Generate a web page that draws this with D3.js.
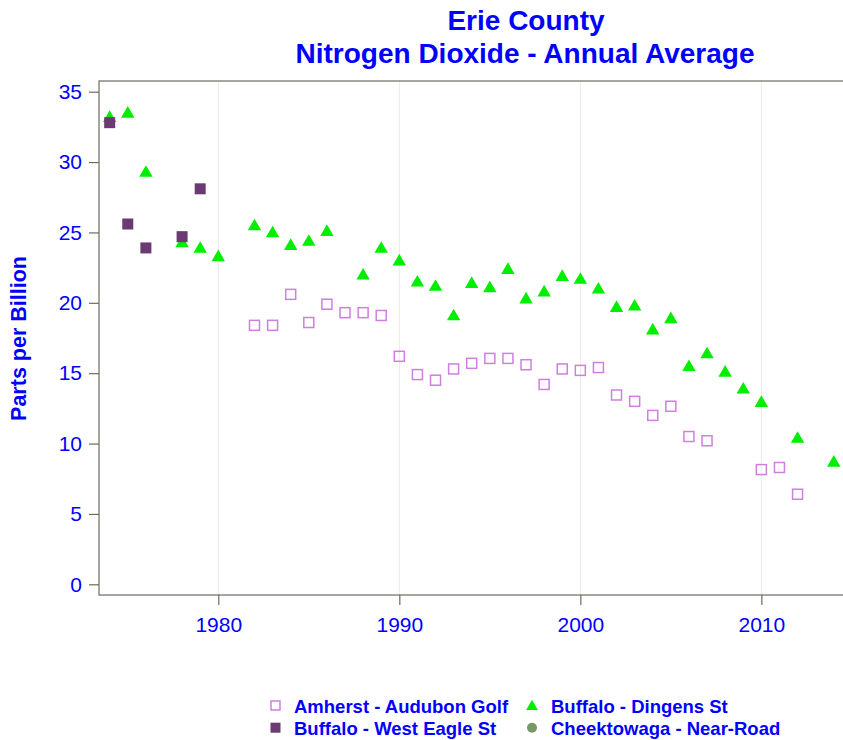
<!DOCTYPE html>
<html>
<head>
<meta charset="utf-8">
<script src="https://cdn.jsdelivr.net/npm/d3@7"></script>
<style>
  body { margin: 0; background: #fff; }
  svg { font-family: "Liberation Sans", Arial, sans-serif; }
</style>
</head>
<body>
<div id="chart"></div>
<script>
(function () {

    const amherstYears = [1982, 1983, 1984, 1985, 1986, 1987, 1988, 1989, 1990, 1991, 1992, 1993, 1994, 1995,
        1996, 1997, 1998, 1999, 2000, 2001, 2002, 2003, 2004, 2005, 2006, 2007, 2010, 2011, 2012]
    const amherstValues = [18.4, 18.4, 20.6, 18.6, 19.9, 19.3, 19.3, 19.1, 16.2, 14.9, 14.5, 15.3, 15.7, 16.05,
        16.05, 15.6, 14.2, 15.3, 15.2, 15.4, 13.45, 13.0, 12.0, 12.65, 10.5, 10.2, 8.15, 8.3, 6.4]

    const dingensYears = [1974, 1975, 1976, 1978, 1979, 1980, 1982, 1983, 1984, 1985, 1986, 1988, 1989, 1990,
        1991, 1992, 1993, 1994, 1995, 1996, 1997, 1998, 1999, 2000, 2001, 2002, 2003, 2004, 2005, 2006,
        2007, 2008, 2009, 2010, 2012, 2014]
    const dingensValues = [33.2, 33.5, 29.3, 24.3, 23.9, 23.3, 25.5, 25.0, 24.1, 24.4, 25.1, 22.0, 23.9, 23.0,
        21.5, 21.2, 19.1, 21.4, 21.1, 22.4, 20.3, 20.8, 21.9, 21.7, 21.0, 19.7, 19.8, 18.1, 18.9, 15.5,
        16.4, 15.1, 13.9, 12.95, 10.4, 8.7]

    const eagleYears = [1974, 1975, 1976, 1978, 1979]
    const eagleValues = [32.8, 25.6, 23.9, 24.7, 28.1]

    const cheekYears = []
    const cheekValues = []

    const xTicks = [1980, 1990, 2000, 2010]
    const yTicks = [0, 5, 10, 15, 20, 25, 30, 35]

    const seriesNames = ['Amherst - Audubon Golf', 'Buffalo - Dingens St',
        'Buffalo - West Eagle St', 'Cheektowaga - Near-Road']

    const width = 843, height = 740
    const left = 99, top = 81, right = 844, bottom = 595
    const blue = '#0000ff'
    const axisColor = '#6e6a60'

    const svg = d3.select('#chart').append('svg')
        .attr('width', width)
        .attr('height', height)

    const x = d3.scaleLinear().domain([1973.41, 2014.51]).range([left, 843])
    const y = d3.scaleLinear().domain([0, 35]).range([584.3, 91.7])

    // grid
    svg.append('g')
        .selectAll('line')
        .data(xTicks)
        .join('line')
        .attr('x1', d => x(d)).attr('x2', d => x(d))
        .attr('y1', top).attr('y2', bottom)
        .attr('stroke', '#ecebdd')
        .attr('stroke-width', 1)

    // frame
    svg.append('rect')
        .attr('x', left).attr('y', top)
        .attr('width', right - left).attr('height', bottom - top)
        .attr('fill', 'none')
        .attr('stroke', axisColor)
        .attr('stroke-width', 1.2)

    // y axis
    const yAxis = svg.append('g')
        .attr('transform', `translate(${left},0)`)
        .call(d3.axisLeft(y).tickValues(yTicks).tickSize(10).tickPadding(7))
    yAxis.select('.domain').remove()
    yAxis.selectAll('line').attr('stroke', axisColor).attr('stroke-width', 1.2)
    yAxis.selectAll('text')
        .attr('fill', blue)
        .style('font-size', '21px')
        .style('font-family', '"Liberation Sans", Arial, sans-serif')

    // x axis
    const xAxis = svg.append('g')
        .attr('transform', `translate(0,${bottom})`)
        .call(d3.axisBottom(x).tickValues(xTicks).tickFormat(d3.format('d')).tickSize(10).tickPadding(12))
    xAxis.select('.domain').remove()
    xAxis.selectAll('line').attr('stroke', axisColor).attr('stroke-width', 1.2)
    xAxis.selectAll('text')
        .attr('fill', blue)
        .style('font-size', '21px')
        .style('font-family', '"Liberation Sans", Arial, sans-serif')

    const zip = (xs, vs) => xs.map((d, i) => ({ year: d, value: vs[i] }))

    const plot = svg.append('g')

    // Buffalo - Dingens St
    const tri = d3.symbol().type(d3.symbolTriangle).size(78)
    plot.append('g')
        .selectAll('path')
        .data(zip(dingensYears, dingensValues))
        .join('path')
        .attr('d', tri)
        .attr('transform', d => `translate(${x(d.year)},${y(d.value) + 1})`)
        .attr('fill', '#00ee00')

    // Buffalo - West Eagle St
    plot.append('g')
        .selectAll('rect')
        .data(zip(eagleYears, eagleValues))
        .join('rect')
        .attr('x', d => x(d.year) - 5.5)
        .attr('y', d => y(d.value) - 5.5)
        .attr('width', 11).attr('height', 11)
        .attr('fill', '#6b3a72')

    // Amherst - Audubon Golf
    plot.append('g')
        .selectAll('rect')
        .data(zip(amherstYears, amherstValues))
        .join('rect')
        .attr('x', d => x(d.year) - 5)
        .attr('y', d => y(d.value) - 5)
        .attr('width', 10).attr('height', 10)
        .attr('fill', 'none')
        .attr('stroke', '#cf7fdf')
        .attr('stroke-width', 1.5)

    // Cheektowaga - Near-Road (no points inside the plotted range)
    plot.append('g')
        .selectAll('circle')
        .data(zip(cheekYears, cheekValues))
        .join('circle')
        .attr('cx', d => x(d.year))
        .attr('cy', d => y(d.value))
        .attr('r', 5)
        .attr('fill', '#779966')

    // titles
    const title = svg.append('g')
        .attr('fill', blue)
        .attr('font-weight', 'bold')
        .attr('text-anchor', 'middle')
        .style('font-size', '28px')
    title.append('text').attr('x', 526).attr('y', 29.5).text('Erie County')
    title.append('text').attr('x', 525).attr('y', 62.5).text('Nitrogen Dioxide - Annual Average')

    svg.append('text')
        .attr('transform', 'translate(25.5,338.5) rotate(-90)')
        .attr('text-anchor', 'middle')
        .attr('fill', blue)
        .attr('font-weight', 'bold')
        .style('font-size', '21.5px')
        .text('Parts per Billion')

    // legend
    const legendPos = [[275.5, 705.5], [532, 705.5], [275.5, 727.7], [532, 727.7]]
    const legend = svg.append('g')
        .selectAll('g')
        .data(seriesNames)
        .join('g')
        .attr('transform', (d, i) => `translate(${legendPos[i][0]},${legendPos[i][1]})`)

    legend.each(function (d, i) {
        const g = d3.select(this)
        if (i === 0) {
            g.append('rect').attr('x', -4.5).attr('y', -4.5).attr('width', 9).attr('height', 9)
                .attr('fill', 'none').attr('stroke', '#cf7fdf').attr('stroke-width', 1.5)
        } else if (i === 1) {
            g.append('path').attr('d', d3.symbol().type(d3.symbolTriangle).size(60))
                .attr('transform', 'translate(0,1)').attr('fill', '#00ee00')
        } else if (i === 2) {
            g.append('rect').attr('x', -5).attr('y', -5).attr('width', 10).attr('height', 10)
                .attr('fill', '#6b3a72')
        } else {
            g.append('circle').attr('r', 5).attr('fill', '#779966')
        }
    })

    legend.append('text')
        .attr('x', (d, i) => i % 2 === 0 ? 18.5 : 19)
        .attr('y', 7.5)
        .attr('fill', blue)
        .attr('font-weight', 'bold')
        .style('font-size', '18.5px')
        .text(d => d)

})();
</script>
</body>
</html>
